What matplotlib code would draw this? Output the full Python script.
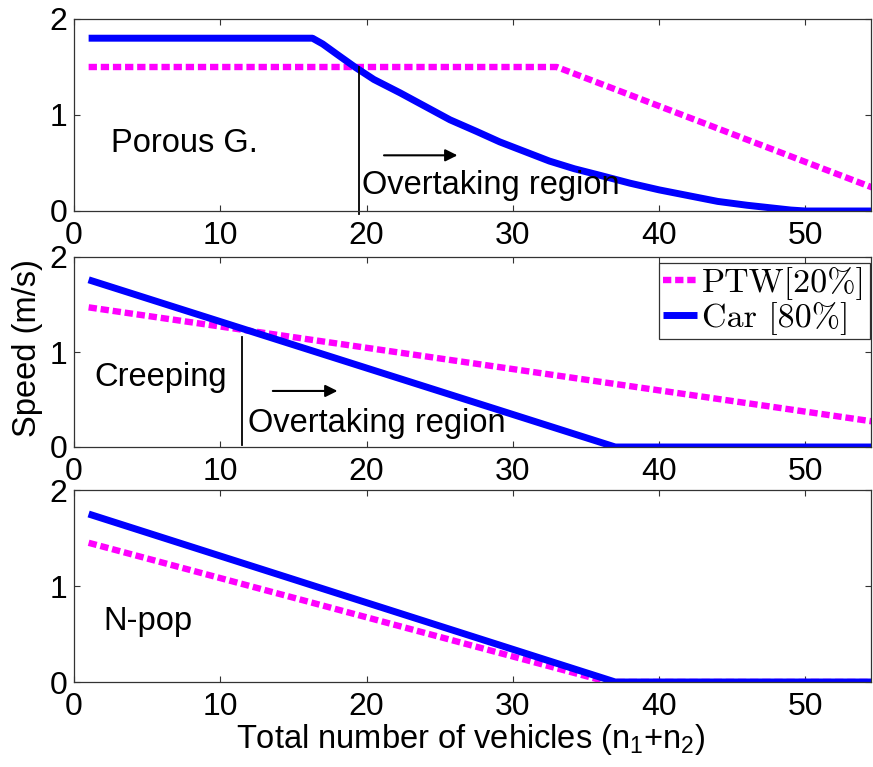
import numpy as np
import matplotlib
matplotlib.use("Agg")
import matplotlib.pyplot as plt

plt.rcParams['font.family'] = ['Liberation Sans', 'DejaVu Sans']
plt.rcParams['mathtext.default'] = 'regular'

# ---- data ----
x_ticks = [0, 10, 20, 30, 40, 50]
y_ticks = [0, 1, 2]

# Porous G.
top_ptw_x = [1, 33, 55]
top_ptw_y = [1.5, 1.5, 0.22]
top_car_x = [1, 16.3, 17, 18, 19.2, 20.5, 22.3, 24, 25.7, 27.5, 29.1, 30.8, 32.5,
             34.2, 36, 38, 40, 42, 44, 46, 47.5, 49, 50, 55]
top_car_y = [1.8, 1.8, 1.74, 1.63, 1.5, 1.37, 1.23, 1.09, 0.95, 0.83, 0.72, 0.62, 0.52,
             0.44, 0.37, 0.29, 0.22, 0.16, 0.10, 0.06, 0.035, 0.01, 0.0, 0.0]

# Creeping
mid_ptw_x = [1, 55]
mid_ptw_y = [1.47, 0.26]
mid_car_x = [1, 37, 55]
mid_car_y = [1.76, 0.0, 0.0]

# N-pop
bot_ptw_x = [1, 36.5, 55]
bot_ptw_y = [1.45, 0.0, 0.0]
bot_car_x = [1, 37, 55]
bot_car_y = [1.75, 0.0, 0.0]

# overtaking markers: (x of crossing, top of vertical line, arrow start, arrow end, arrow y)
top_cross = (19.5, 1.5, 21.0, 26.4, 0.58)
mid_cross = (11.5, 1.16, 13.4, 18.2, 0.59)

W, H = 873, 767
fig = plt.figure(figsize=(W / 100, H / 100), dpi=100)

def frac_axes(top_px, bot_px):
    return fig.add_axes([74 / W, 1 - bot_px / H, 797 / W, (bot_px - top_px) / H])

ax1 = frac_axes(19, 211)
ax2 = frac_axes(257, 447)
ax3 = frac_axes(490, 682)

FS = 23.5
TFS = 23
ptw_kw = dict(color='#ff00ff', lw=4.6, dashes=[1.3, 0.6], dash_capstyle='butt')
car_kw = dict(color='#0000ff', lw=5.0, solid_capstyle='butt', solid_joinstyle='round')

panels = [
    (ax1, top_ptw_x, top_ptw_y, top_car_x, top_car_y),
    (ax2, mid_ptw_x, mid_ptw_y, mid_car_x, mid_car_y),
    (ax3, bot_ptw_x, bot_ptw_y, bot_car_x, bot_car_y),
]
for ax, px, py, cx, cy in panels:
    ax.plot(px, py, label='PTW[20%]', **ptw_kw)
    ax.plot(cx, cy, label='Car [80%]', **car_kw)
    ax.set_xlim(0, 54.48)
    ax.set_ylim(0, 2)
    ax.set_xticks(x_ticks)
    ax.set_yticks(y_ticks)
    ax.tick_params(direction='in', length=4.5, width=0.8, top=True, right=True,
                   labelsize=TFS, pad=5, color='#333333')
    ax.tick_params(axis='x', pad=7)
    for s in ax.spines.values():
        s.set_linewidth(0.9)
        s.set_color('#333333')

# top panel annotations
cx, ctop, a0, a1, ay = top_cross
ax1.plot([cx, cx], [-0.03, ctop], color='black', lw=1.3, clip_on=False)
ax1.annotate('', xy=(a1, ay), xytext=(a0, ay),
             arrowprops=dict(arrowstyle='-|>', color='black', lw=1.5, mutation_scale=18))
ax1.text(19.7, 0.27, 'Overtaking region', fontsize=FS, va='center', ha='left')
ax1.text(2.5, 0.7, 'Porous G.', fontsize=FS, va='center', ha='left')

# middle panel annotations
cx, ctop, a0, a1, ay = mid_cross
ax2.plot([cx, cx], [0.02, ctop], color='black', lw=1.3)
ax2.annotate('', xy=(a1, ay), xytext=(a0, ay),
             arrowprops=dict(arrowstyle='-|>', color='black', lw=1.5, mutation_scale=18))
ax2.text(11.9, 0.25, 'Overtaking region', fontsize=FS, va='center', ha='left')
ax2.text(1.4, 0.73, 'Creeping', fontsize=FS, va='center', ha='left')

ax3.text(2.0, 0.63, 'N-pop', fontsize=FS, va='center', ha='left')

leg = ax2.legend(loc='upper right', bbox_to_anchor=(870 / W, 1 - 263 / H),
                 bbox_transform=fig.transFigure, borderaxespad=0,
                 prop={'family': 'cmr10', 'size': 24.5}, frameon=True, fancybox=False,
                 borderpad=0.12, labelspacing=0.05, handlelength=1.0, handletextpad=0.15)
leg.get_frame().set_edgecolor('black')
leg.get_frame().set_linewidth(0.9)

fig.text(28 / W, 1 - 348 / H, 'Speed (m/s)', rotation=90, fontsize=FS, ha='center', va='center')
fig.text(471 / W, 1 - 748 / H, 'Total number of vehicles (n$_1$+n$_2$)', fontsize=FS,
         ha='center', va='baseline')

fig.savefig('out.png', dpi=100)
